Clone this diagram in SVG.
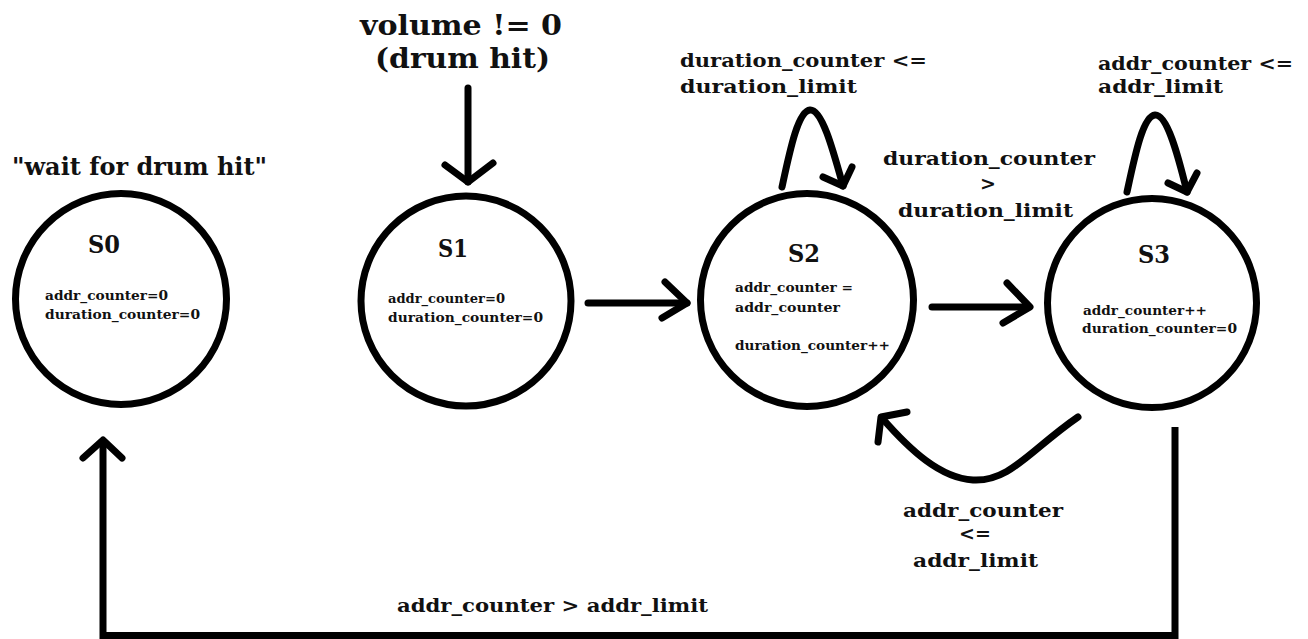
<svg xmlns="http://www.w3.org/2000/svg" width="1308" height="639" viewBox="0 0 1308 639">
  <style>
    text { font-family: "DejaVu Serif", "Liberation Serif", serif; font-weight: bold; fill: #111; }
    .head { font-size: 28px; }
    .note { font-size: 25px; }
    .state { font-size: 25px; }
    .edge { font-size: 19px; }
    .body { font-size: 13.5px; }
    .ring { fill: #fff; stroke: #000; stroke-width: 7; }
    .wire { fill: none; stroke: #000; stroke-width: 7; stroke-linecap: round; stroke-linejoin: round; }
    .bus { fill: none; stroke: #000; stroke-width: 7; stroke-linecap: butt; stroke-linejoin: miter; }
  </style>
  <rect width="1308" height="639" fill="#fff"/>

  <!-- transitions -->
  <g id="connectors">
    <!-- trigger into S1 -->
    <path class="wire" d="M468,88 L468,182"/>
    <path class="wire" d="M445,165 L468,182 L493,163"/>
    <!-- S1 to S2 -->
    <path class="wire" d="M588,303 L687,303"/>
    <path class="wire" d="M665,282 L687,303 L662,318"/>
    <!-- S2 self loop -->
    <path class="wire" d="M782,187 C790,150 798,111 810,110 C822,109 833,150 843,186"/>
    <path class="wire" d="M823,177 L843,186 L852,167"/>
    <!-- S2 to S3 -->
    <path class="wire" d="M932,307 L1028,307"/>
    <path class="wire" d="M1007,283 L1030,307 L1003,323"/>
    <!-- S3 self loop -->
    <path class="wire" d="M1127,192 C1135,155 1143,116 1155,115 C1167,114 1178,155 1187,192"/>
    <path class="wire" d="M1168,183 L1187,192 L1197,173"/>
    <!-- S3 back to S2 -->
    <path class="wire" d="M1078,417 C1030,450 1010,482 973,480 C940,478 910,450 882,418"/>
    <path class="wire" d="M907,412 L881,417 L878,442"/>
    <!-- S3 back to S0 -->
    <path class="bus" d="M1175,427 L1175,635.5 L103,635.5 L103,441"/>
    <path class="wire" d="M83,458 L103,440 L122,458"/>
  </g>

  <!-- edge labels -->
  <g id="labels">
    <text class="head" x="360" y="35" textLength="202" lengthAdjust="spacingAndGlyphs">volume != 0</text>
    <text class="head" x="375" y="68" textLength="175" lengthAdjust="spacingAndGlyphs">(drum hit)</text>
    <text class="edge" x="680" y="67" textLength="247" lengthAdjust="spacingAndGlyphs">duration_counter &lt;=</text>
    <text class="edge" x="680" y="93" textLength="177" lengthAdjust="spacingAndGlyphs">duration_limit</text>
    <text class="edge" x="883" y="165" textLength="212" lengthAdjust="spacingAndGlyphs">duration_counter</text>
    <text class="edge" x="988" y="190" text-anchor="middle" font-size="15">&gt;</text>
    <text class="edge" x="898" y="217" textLength="175" lengthAdjust="spacingAndGlyphs">duration_limit</text>
    <text class="edge" x="1098" y="70" textLength="195" lengthAdjust="spacingAndGlyphs">addr_counter &lt;=</text>
    <text class="edge" x="1098" y="93" textLength="125" lengthAdjust="spacingAndGlyphs">addr_limit</text>
    <text class="edge" x="903" y="517" textLength="160" lengthAdjust="spacingAndGlyphs">addr_counter</text>
    <text class="edge" x="975" y="540" text-anchor="middle" font-size="15">&lt;=</text>
    <text class="edge" x="913" y="567" textLength="125" lengthAdjust="spacingAndGlyphs">addr_limit</text>
    <text class="edge" x="397" y="612" textLength="311" lengthAdjust="spacingAndGlyphs">addr_counter &gt; addr_limit</text>
  </g>

  <g id="S0">
    <text class="note" x="12" y="175" textLength="255" lengthAdjust="spacingAndGlyphs">"wait for drum hit"</text>
    <circle class="ring" cx="121" cy="299" r="105.5"/>
    <text class="state" x="88" y="253" textLength="32" lengthAdjust="spacingAndGlyphs">S0</text>
    <text class="body" x="45" y="300" textLength="123" lengthAdjust="spacingAndGlyphs">addr_counter=0</text>
    <text class="body" x="45" y="319" textLength="155" lengthAdjust="spacingAndGlyphs">duration_counter=0</text>
  </g>

  <g id="S1">
    <circle class="ring" cx="466" cy="301" r="105"/>
    <text class="state" x="438" y="257" textLength="30" lengthAdjust="spacingAndGlyphs">S1</text>
    <text class="body" x="388" y="303" textLength="117" lengthAdjust="spacingAndGlyphs">addr_counter=0</text>
    <text class="body" x="388" y="322" textLength="155" lengthAdjust="spacingAndGlyphs">duration_counter=0</text>
  </g>

  <g id="S2">
    <circle class="ring" cx="807" cy="300" r="106.5"/>
    <text class="state" x="788" y="262" textLength="32" lengthAdjust="spacingAndGlyphs">S2</text>
    <text class="body" x="735" y="292" textLength="118" lengthAdjust="spacingAndGlyphs">addr_counter =</text>
    <text class="body" x="735" y="312" textLength="105" lengthAdjust="spacingAndGlyphs">addr_counter</text>
    <text class="body" x="735" y="350" textLength="155" lengthAdjust="spacingAndGlyphs">duration_counter++</text>
  </g>

  <g id="S3">
    <circle class="ring" cx="1152" cy="303" r="104.5"/>
    <text class="state" x="1138" y="263" textLength="32" lengthAdjust="spacingAndGlyphs">S3</text>
    <text class="body" x="1083" y="315" textLength="124" lengthAdjust="spacingAndGlyphs">addr_counter++</text>
    <text class="body" x="1082" y="333" textLength="155" lengthAdjust="spacingAndGlyphs">duration_counter=0</text>
  </g>
</svg>
